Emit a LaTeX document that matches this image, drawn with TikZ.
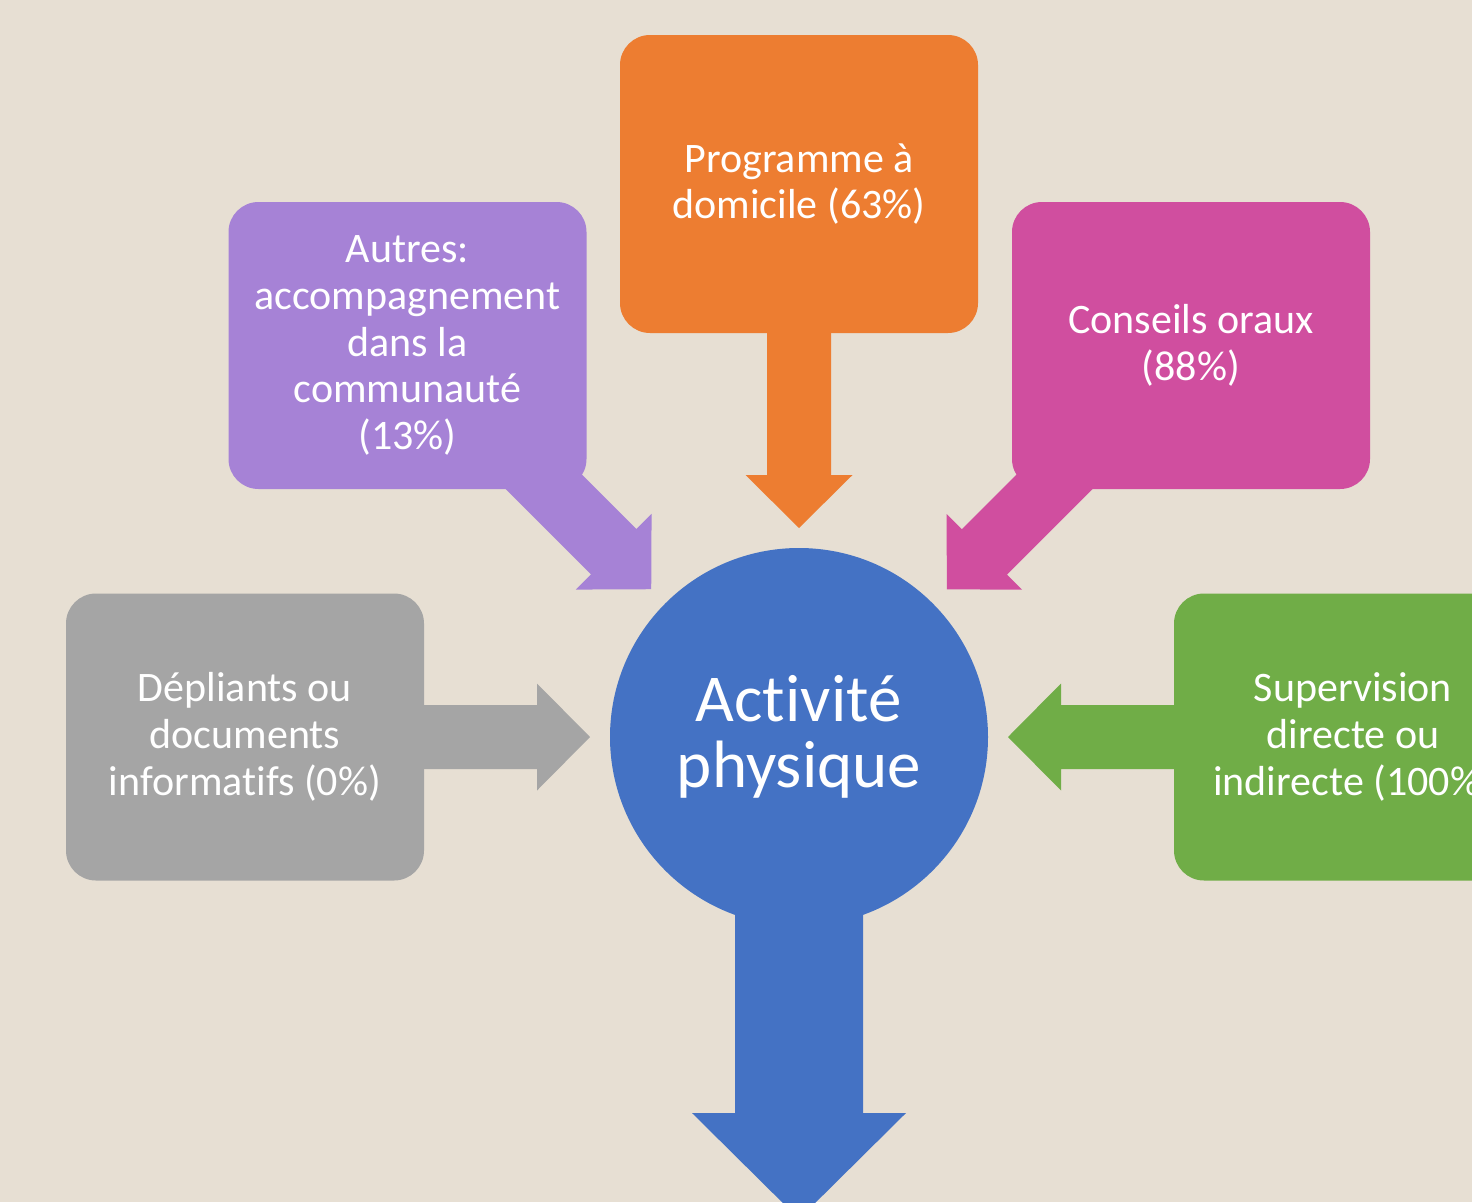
\documentclass[tikz,border=0pt]{standalone}
\usepackage{fontspec}
\setmainfont[Ligatures={NoCommon,NoRare,NoContextual},Contextuals=NoAlternate]{Carlito}
\usetikzlibrary{positioning,calc,backgrounds}
\definecolor{minebg}{RGB}{231,223,211}
\definecolor{mineblue}{RGB}{68,114,196}
\definecolor{mineorange}{RGB}{237,125,49}
\definecolor{minepurple}{RGB}{166,130,214}
\definecolor{minepink}{RGB}{208,78,159}
\definecolor{minegray}{RGB}{165,165,165}
\definecolor{minegreen}{RGB}{112,173,71}
% block arrow: [scale]{from}{tip}{colour}
\newcommand{\blockarrow}[4][1]{%
  \path ($(#3)!#1*53pt!(#2)$) coordinate (hb);
  \fill[#4] ($(#2)!#1*32pt!90:(hb)$) -- ($(hb)!#1*32pt!-90:(#2)$)
    -- ($(hb)!#1*53.5pt!-90:(#2)$) -- (#3)
    -- ($(hb)!#1*53.5pt!90:(#2)$) -- ($(hb)!#1*32pt!90:(#2)$)
    -- ($(#2)!#1*32pt!-90:(hb)$) -- cycle;}

\begin{document}
\begin{tikzpicture}[x=1pt,y=-1pt,
                box/.style={rectangle,rounded corners=30pt,text=white,
                            minimum width=358pt,minimum height=287pt,
                            inner sep=0pt,align=center,
                            font=\fontsize{42}{46.7}\selectfont}]
                \useasboundingbox (0,0) rectangle (1472,1202);
                \clip (0,0) rectangle (1472,1202);
                \node[box,fill=mineorange,minimum height=298pt]
                           (prog)     at (799,184)     {Programme à\\domicile (63\%)};
                \node[box,fill=minepurple]
                           (autres)   at (407.5,345.5) {Autres:\\accompagnement\\dans la\\communauté\\(13\%)};
                \node[box,fill=minepink]
                           (conseils) at (1191,345.5)  {Conseils oraux\\(88\%)};
                \node[box,fill=minegray]
                           (depl)     at (245,737)     {Dépliants ou\\documents\\informat\kern0pt ifs (0\%)};
                \node[box,fill=minegreen]
                           (superv)   at (1353,737)    {Supervision\\directe ou\\indirecte (100\%)};
                \node[circle,fill=mineblue,text=white,minimum size=378pt,
                      inner sep=0pt,align=center,
                      font=\fontsize{67}{66}\selectfont]
                           (act)      at (799,737)     {Activ\kern0pt it\kern0pt é\\physique};
                \coordinate (tprog) at ($(act.center)!209pt!(prog.center)$);
                \coordinate (tautr) at ($(act.center)!209pt!(autres.center)$);
                \coordinate (tcons) at ($(act.center)!209pt!(conseils.center)$);
                \coordinate (tdepl) at ($(act.center)!209pt!(depl.center)$);
                \coordinate (tsupv) at ($(act.center)!209pt!(superv.center)$);
                \coordinate (out)   at (799,1219);
                \begin{scope}[on background layer]
                \clip (0,0) rectangle (1472,1202);
                \fill[minebg] (0,0) rectangle (1472,1202);
                \blockarrow{prog.center}{tprog}{mineorange}
                \blockarrow{autres.center}{tautr}{minepurple}
                \blockarrow{conseils.center}{tcons}{minepink}
                \blockarrow{depl.center}{tdepl}{minegray}
                \blockarrow{superv.center}{tsupv}{minegreen}
                \blockarrow[2]{act.center}{out}{mineblue}
                \end{scope}
            \end{tikzpicture}
\end{document}
